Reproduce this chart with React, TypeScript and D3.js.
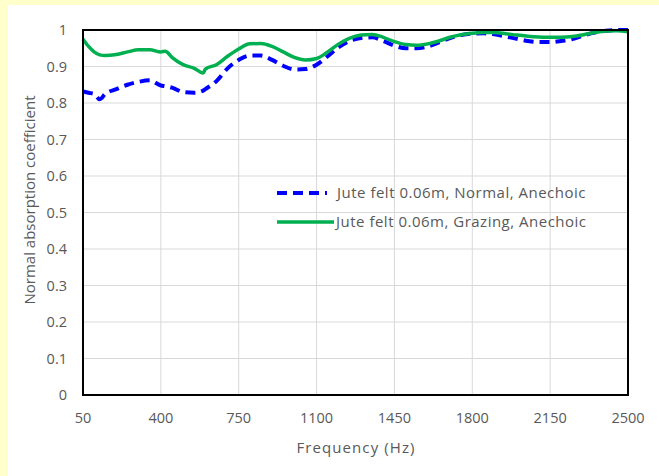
import React from "react";
import * as d3 from "d3";

// Frequencies (Hz) at which both absorption curves are sampled
const frequencies = [
  50, 75, 100, 125, 150, 200, 250, 300, 350, 400, 420, 450, 500, 550, 590, 600, 650, 700,
  750, 800, 850, 900, 950, 1000, 1050, 1100, 1150, 1200, 1250, 1300, 1350, 1400,
  1450, 1500, 1550, 1600, 1650, 1700, 1750, 1800, 1850, 1900, 1950, 2000, 2050,
  2100, 2150, 2200, 2250, 2300, 2350, 2400, 2450, 2500,
];

// Jute felt 0.06 m, normal incidence, anechoic termination
const normalValues = [
  0.832, 0.828, 0.825, 0.81, 0.825, 0.838, 0.85, 0.858, 0.862, 0.848, 0.846, 0.842, 0.83, 0.828, 0.834, 0.838, 0.86, 0.895,
  0.918, 0.93, 0.93, 0.918, 0.902, 0.892, 0.893, 0.905, 0.928, 0.953, 0.97, 0.978, 0.98, 0.97,
  0.957, 0.95, 0.95, 0.955, 0.966, 0.978, 0.986, 0.99, 0.991, 0.988, 0.982, 0.976, 0.97,
  0.967, 0.967, 0.97, 0.975, 0.985, 0.993, 0.998, 1.0, 1.0,
];

// Jute felt 0.06 m, grazing incidence, anechoic termination
const grazingValues = [
  0.975, 0.955, 0.94, 0.932, 0.93, 0.933, 0.94, 0.946, 0.946, 0.94, 0.942, 0.925, 0.905, 0.895, 0.882, 0.893, 0.905, 0.928,
  0.948, 0.962, 0.963, 0.955, 0.94, 0.925, 0.918, 0.922, 0.94, 0.962, 0.978, 0.986, 0.988, 0.98,
  0.968, 0.96, 0.958, 0.962, 0.97, 0.98, 0.987, 0.991, 0.993, 0.993, 0.99, 0.986, 0.983,
  0.981, 0.98, 0.98, 0.982, 0.987, 0.993, 0.997, 0.998, 0.995,
];

const xTicks = [50, 400, 750, 1100, 1450, 1800, 2150, 2500];
const yTicks = [0, 0.1, 0.2, 0.3, 0.4, 0.5, 0.6, 0.7, 0.8, 0.9, 1];

const seriesNames = [
  "Jute felt 0.06m, Normal, Anechoic",
  "Jute felt 0.06m, Grazing, Anechoic",
];

const W = 659;
const H = 476;
const plot = { left: 83, right: 628, top: 30, bottom: 395 };
const font = "'Open Sans', 'Noto Sans', sans-serif";
const textColor = "#595959";

export default function App() {
  const x = d3.scaleLinear().domain([50, 2500]).range([plot.left, plot.right]);
  const y = d3.scaleLinear().domain([0, 1]).range([plot.bottom, plot.top]);

  const line = d3
    .line<number>()
    .x((_, i) => x(frequencies[i]))
    .y((d) => y(d))
    .curve(d3.curveMonotoneX);

  return (
    <svg
      width={W}
      height={H}
      style={{ position: "absolute", left: 0, top: 0, display: "block" }}
    >
      <rect x={0} y={0} width={W} height={H} fill="#FFFFCC" />
      <rect x={8} y={5} width={W - 8} height={H - 5} fill="#ffffff" />

      {/* gridlines */}
      {xTicks.map((t) => (
        <line
          key={"gx" + t}
          x1={x(t)}
          x2={x(t)}
          y1={plot.top}
          y2={plot.bottom}
          stroke="#d9d9d9"
          strokeWidth={1}
        />
      ))}
      {yTicks.map((t) => (
        <line
          key={"gy" + t}
          x1={plot.left}
          x2={plot.right}
          y1={y(t)}
          y2={y(t)}
          stroke="#d9d9d9"
          strokeWidth={1}
        />
      ))}

      {/* data series */}
      <path
        d={line(normalValues) ?? ""}
        fill="none"
        stroke="#0000FF"
        strokeWidth={4}
        strokeDasharray="10 6"
      />
      <path
        d={line(grazingValues) ?? ""}
        fill="none"
        stroke="#00B050"
        strokeWidth={3.5}
      />

      {/* plot frame */}
      <rect
        x={plot.left}
        y={plot.top}
        width={plot.right - plot.left}
        height={plot.bottom - plot.top}
        fill="none"
        stroke="#000"
        strokeWidth={2}
      />

      {/* axis tick labels */}
      {xTicks.map((t) => (
        <text
          key={"tx" + t}
          x={x(t)}
          y={423}
          textAnchor="middle"
          fontFamily={font}
          fontSize={14.5}
          fill={textColor}
        >
          {t}
        </text>
      ))}
      {yTicks.map((t) => (
        <text
          key={"ty" + t}
          x={67}
          y={y(t) + 5}
          textAnchor="end"
          fontFamily={font}
          fontSize={14.5}
          fill={textColor}
        >
          {d3.format("~g")(t)}
        </text>
      ))}

      {/* axis titles */}
      <text
        x={356}
        y={453}
        textAnchor="middle"
        fontFamily={font}
        fontSize={15}
        letterSpacing={1.1}
        fill={textColor}
      >
        Frequency (Hz)
      </text>
      <text
        transform={`translate(35, 200) rotate(-90)`}
        textAnchor="middle"
        fontFamily={font}
        fontSize={15}
        fill={textColor}
      >
        Normal absorption coefficient
      </text>

      {/* legend */}
      <line x1={277} x2={327} y1={193} y2={193} stroke="#0000FF" strokeWidth={4} strokeDasharray="10 6" />
      <text x={337} y={197.5} fontFamily={font} fontSize={15} letterSpacing={0.5} fill={textColor}>
        {seriesNames[0]}
      </text>
      <line x1={277} x2={334} y1={222} y2={222} stroke="#00B050" strokeWidth={3.5} />
      <text x={336} y={227} fontFamily={font} fontSize={15} letterSpacing={0.5} fill={textColor}>
        {seriesNames[1]}
      </text>
    </svg>
  );
}
